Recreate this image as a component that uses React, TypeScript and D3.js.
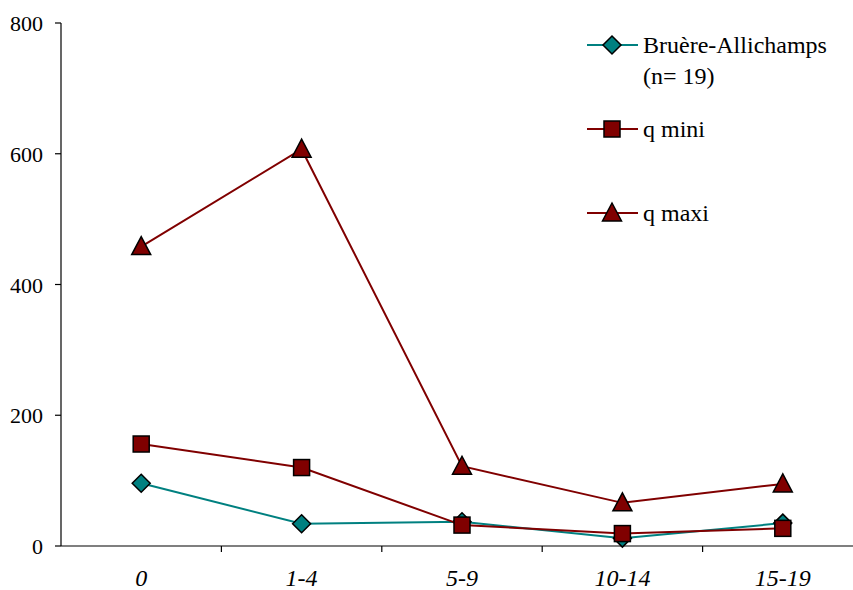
import React from "react";
import * as d3 from "d3";

const categories = ["0", "1-4", "5-9", "10-14", "15-19"];
const bruere = [96, 34, 37, 12, 35];
const qMini = [156, 120, 32, 19, 27];
const qMaxi = [458, 607, 122, 66, 95];
const yTicks = [0, 200, 400, 600, 800];

const TEAL = "#008080";
const RED = "#800000";

export default function App() {
  const W = 853, H = 590;
  const left = 61, top = 23, bottom = 546;
  const bandW = 160.4;
  const x = d3.scaleBand<string>().domain(categories).range([left, left + bandW * categories.length]);
  const cx = (c: string) => (x(c) as number) + x.bandwidth() / 2;
  const y = d3.scaleLinear().domain([0, 800]).range([bottom, top]);
  const line = d3.line<number>().x((_, i) => cx(categories[i])).y((d) => y(d));

  const diamond = (px: number, py: number, key: string, color: string) => (
    <path key={key} d={`M${px},${py - 9}L${px + 9},${py}L${px},${py + 9}L${px - 9},${py}Z`} fill={color} stroke="#000" strokeWidth={1.5} />
  );
  const square = (px: number, py: number, key: string, color: string) => (
    <rect key={key} x={px - 8} y={py - 8} width={16} height={16} fill={color} stroke="#000" strokeWidth={1.5} />
  );
  const triangle = (px: number, py: number, key: string, color: string) => (
    <path key={key} d={`M${px},${py - 10}L${px + 9.5},${py + 8}L${px - 9.5},${py + 8}Z`} fill={color} stroke="#000" strokeWidth={1.5} />
  );

  const series = [
    { name: "bruere", data: bruere, color: TEAL, marker: diamond },
    { name: "qmini", data: qMini, color: RED, marker: square },
    { name: "qmaxi", data: qMaxi, color: RED, marker: triangle },
  ];

  const tickXs = d3.range(1, categories.length).map((i) => left + bandW * i);

  const legendX1 = 587, legendX2 = 638, legendMid = 612, legendTextX = 643;
  const ser = { fontFamily: "Liberation Serif, Times New Roman, serif" };

  return (
    <svg width={W} height={H} style={{ position: "absolute", left: 0, top: 0 }}>
      <line x1={left} y1={top} x2={left} y2={bottom} stroke="#000" strokeWidth={1.2} />
      <line x1={left} y1={bottom} x2={W} y2={bottom} stroke="#000" strokeWidth={1.2} />
      {yTicks.map((t) => (
        <g key={t}>
          <line x1={left - 6} x2={left} y1={y(t)} y2={y(t)} stroke="#000" strokeWidth={1.2} />
          <text style={ser} x={43} y={y(t) + 8} textAnchor="end" fontSize={22}>{String(t)}</text>
        </g>
      ))}
      {tickXs.map((tx, i) => (
        <line key={i} x1={tx} x2={tx} y1={bottom} y2={bottom + 6} stroke="#000" strokeWidth={1.2} />
      ))}
      {categories.map((c) => (
        <text style={ser} key={c} x={cx(c)} y={586} textAnchor="middle" fontSize={24} fontStyle="italic">{c}</text>
      ))}
      {series.map((s) => (
        <g key={s.name}>
          <path d={line(s.data) as string} fill="none" stroke={s.color} strokeWidth={2} />
          {s.data.map((v, i) => s.marker(cx(categories[i]), y(v), `${s.name}-${i}`, s.color))}
        </g>
      ))}
      <line x1={legendX1} x2={legendX2} y1={45} y2={45} stroke={TEAL} strokeWidth={2} />
      {diamond(legendMid, 45, "ld", TEAL)}
      <text style={ser} x={legendTextX} y={53} fontSize={24}>Bruère-Allichamps</text>
      <text style={ser} x={legendTextX} y={84} fontSize={24}>(n= 19)</text>
      <line x1={legendX1} x2={legendX2} y1={129} y2={129} stroke={RED} strokeWidth={2} />
      {square(legendMid, 129, "ls", RED)}
      <text style={ser} x={legendTextX} y={137} fontSize={24}>q mini</text>
      <line x1={legendX1} x2={legendX2} y1={213} y2={213} stroke={RED} strokeWidth={2} />
      {triangle(legendMid, 213, "lt", RED)}
      <text style={ser} x={legendTextX} y={221} fontSize={24}>q maxi</text>
    </svg>
  );
}
